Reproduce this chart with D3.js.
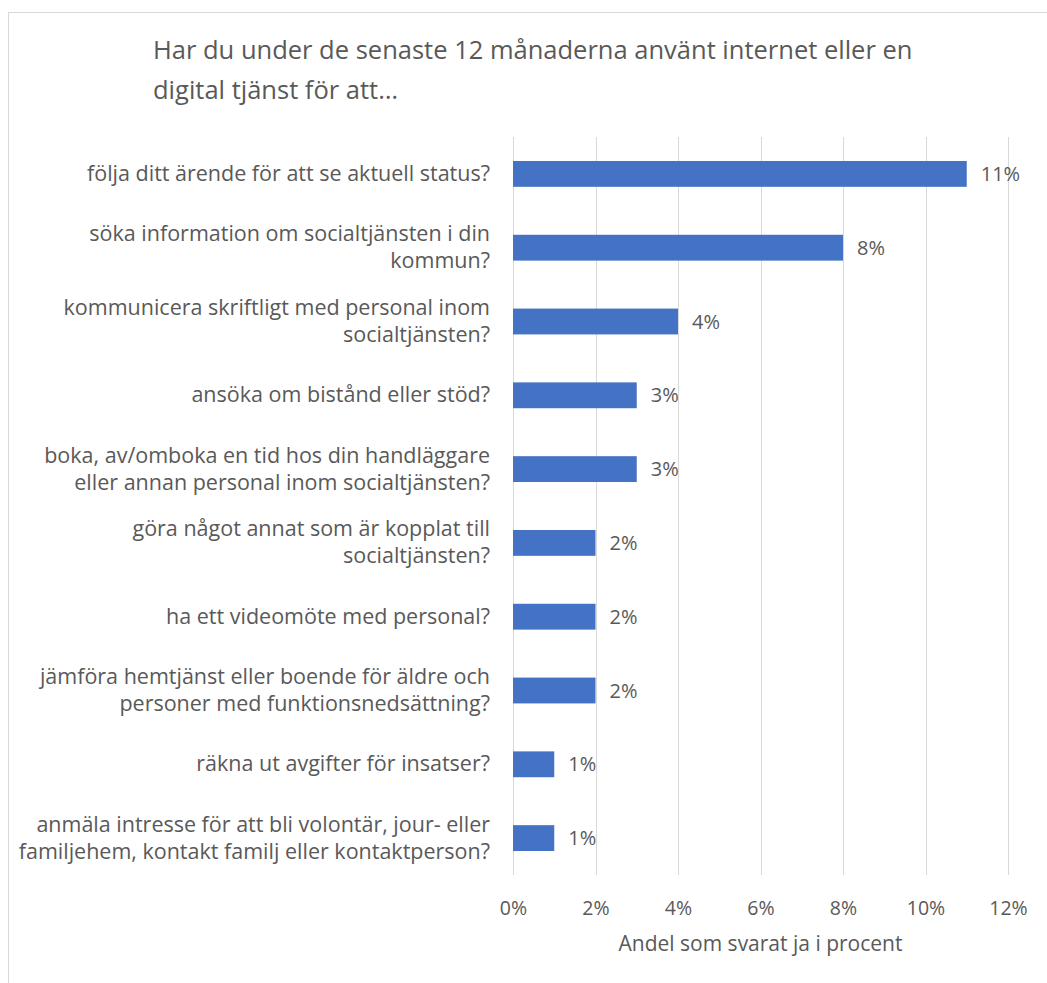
<!DOCTYPE html>
<html>
<head>
<meta charset="utf-8">
<script src="https://cdn.jsdelivr.net/npm/d3@7"></script>
<style>
  html, body { margin: 0; padding: 0; background: #fff; }
  svg text { font-family: "Open Sans", "Noto Sans", sans-serif; fill: #595959; }
</style>
</head>
<body>
<svg id="chart" width="1047" height="983"></svg>
<script>
// Survey answers: share answering "yes" (percent)
const categories = [
  ["följa ditt ärende för att se aktuell status?"],
  ["söka information om socialtjänsten i din", "kommun?"],
  ["kommunicera skriftligt med personal inom", "socialtjänsten?"],
  ["ansöka om bistånd eller stöd?"],
  ["boka, av/omboka en tid hos din handläggare", "eller annan personal inom socialtjänsten?"],
  ["göra något annat som är kopplat till", "socialtjänsten?"],
  ["ha ett videomöte med personal?"],
  ["jämföra hemtjänst eller boende för äldre och", "personer med funktionsnedsättning?"],
  ["räkna ut avgifter för insatser?"],
  ["anmäla intresse för att bli volontär, jour- eller", "familjehem, kontakt familj eller kontaktperson?"]
];
const values = [11, 8, 4, 3, 3, 2, 2, 2, 1, 1];
const xTicks = [0, 2, 4, 6, 8, 10, 12];
const titleLines = [
  "Har du under de senaste 12 månaderna använt internet eller en",
  "digital tjänst för att…"
];
const axisTitle = "Andel som svarat ja i procent";

const svg = d3.select("#chart");

// chart frame
svg.append("rect")
  .attr("x", 8.5).attr("y", 12.5)
  .attr("width", 1060).attr("height", 990)
  .attr("fill", "#fff").attr("stroke", "#d9d9d9").attr("stroke-width", 1);

const plot = { left: 513, right: 1008, top: 137, bottom: 875 };

const x = d3.scaleLinear().domain([0, 12]).range([plot.left, plot.right]);
const y = d3.scaleBand()
  .domain(d3.range(categories.length))
  .range([plot.top, plot.bottom])
  .paddingInner(0.65).paddingOuter(0.325);

// title
svg.append("text")
  .attr("x", 153).attr("y", 59)
  .style("font-size", "25.5px")
  .selectAll("tspan").data(titleLines).join("tspan")
  .attr("x", 153).attr("dy", (d, i) => i === 0 ? 0 : 40)
  .text(d => d);

// vertical gridlines
svg.append("g").selectAll("line").data(xTicks).join("line")
  .attr("x1", d => Math.round(x(d)) + 0.5).attr("x2", d => Math.round(x(d)) + 0.5)
  .attr("y1", plot.top).attr("y2", plot.bottom)
  .attr("stroke", "#d9d9d9").attr("stroke-width", 1);

// x axis tick labels
const xAxis = d3.axisBottom(x).tickValues(xTicks).tickFormat(d => d + "%").tickSize(0).tickPadding(0);
const gx = svg.append("g").attr("transform", `translate(0, ${plot.bottom + 40})`).call(xAxis);
gx.select(".domain").remove();
gx.selectAll("text")
  .attr("dy", 0)
  .style("font-size", "19.5px")
  .style("font-family", "'Open Sans', sans-serif")
  .attr("fill", "#595959");

// axis title
svg.append("text")
  .attr("x", (plot.left + plot.right) / 2).attr("y", 951)
  .attr("text-anchor", "middle")
  .style("font-size", "21px")
  .text(axisTitle);

// bars
svg.append("g").selectAll("rect").data(values).join("rect")
  .attr("x", x(0))
  .attr("y", (d, i) => y(i))
  .attr("width", d => x(d) - x(0))
  .attr("height", y.bandwidth())
  .attr("fill", "#4472c4");

// value labels
svg.append("g").selectAll("text").data(values).join("text")
  .attr("x", d => x(d) + 14)
  .attr("y", (d, i) => y(i) + y.bandwidth() / 2 + 7)
  .style("font-size", "20px")
  .text(d => d + "%");

// category labels, one text element per line
const lineH = 27;
const labelGroups = svg.append("g").selectAll("g").data(categories).join("g");
labelGroups.each(function (lines, i) {
  const cy = y(i) + y.bandwidth() / 2 + 7 - (lines.length - 1) * lineH / 2;
  d3.select(this).selectAll("text").data(lines).join("text")
    .attr("text-anchor", "end")
    .attr("x", 490)
    .attr("y", (d, j) => cy + j * lineH)
    .style("font-size", "21.5px")
    .text(d => d);
});
</script>
</body>
</html>
